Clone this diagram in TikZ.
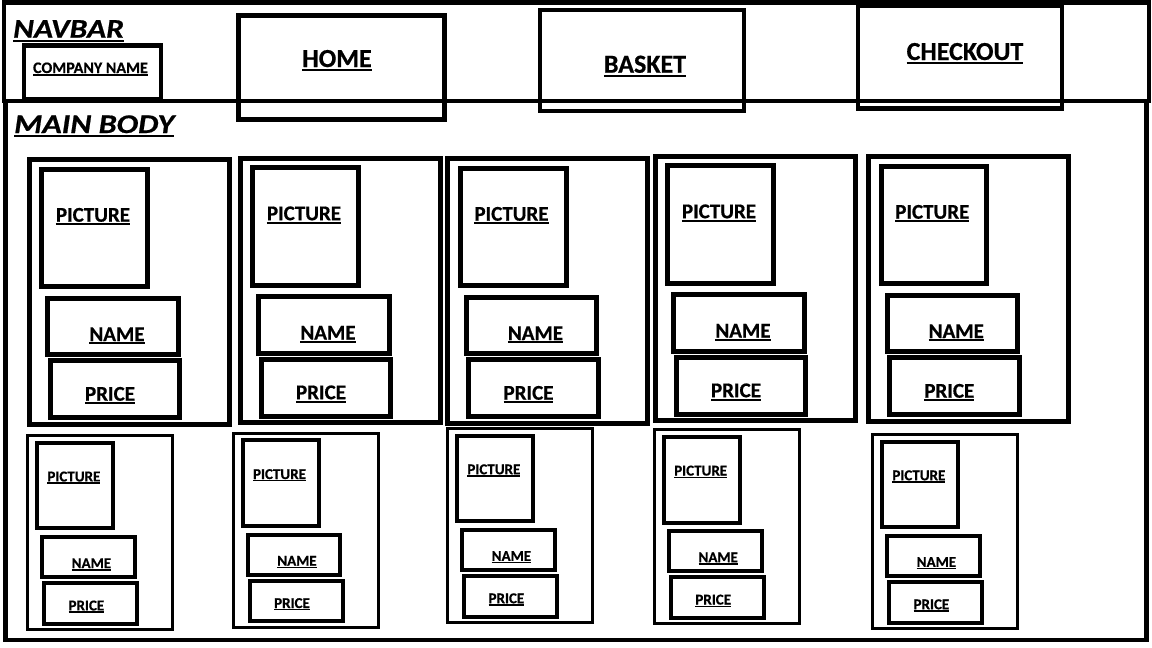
\documentclass[tikz,border=0pt]{standalone}
\usepackage{fontspec}
\setmainfont{Carlito}[BoldFeatures={FakeBold=0.6},BoldItalicFeatures={FakeBold=0.6}]
\newcommand\ulin[1]{\setbox0=\hbox{#1}\rlap{\rule[-0.16em]{\wd0}{0.09em}}\box0}
\newcommand\bx[6]{\node[#2, minimum width={(#5)-(#3)}, minimum height={(#6)-(#4)}, anchor=north west] (#1) at ({#3},{#4}) {};}
\newcommand\bigcard[3]{%
 \bx{#1}{card}{#2}{#3}{#2+200}{#3+264.5}
 \bx{#1p}{inbox}{#2+12.8}{#3+9.5}{#2+118.5}{#3+127}
 \bx{#1n}{inbox}{#2+18.8}{#3+138.5}{#2+149}{#3+195}
 \bx{#1r}{inbox}{#2+21}{#3+201}{#2+150.7}{#3+258}
 \node[lblbig] (#1pt) at ({#2+64},{#3+62.2}) {\ulin{PICTURE}};
 \node[lblbig] (#1nt) at ({#2+88},{#3+181.5}) {\ulin{NAME}};
 \node[lblbig] (#1rt) at ({#2+81},{#3+241.2}) {\ulin{PRICE}};
}
\newcommand\smallcard[3]{%
 \bx{#1}{cardsm}{#2}{#3}{#2+145}{#3+194}
 \bx{#1p}{insm}{#2+9.7}{#3+7}{#2+85.4}{#3+92.7}
 \bx{#1n}{insm}{#2+14.5}{#3+101.2}{#2+107}{#3+141.4}
 \bx{#1r}{insm}{#2+16.4}{#3+147.2}{#2+109.5}{#3+188}
 \node[lblsm] (#1pt) at ({#2+46.2},{#3+45.7}) {\ulin{PICTURE}};
 \node[lblsm] (#1nt) at ({#2+63.7},{#3+132.4}) {\ulin{NAME}};
 \node[lblsm] (#1rt) at ({#2+58.7},{#3+174.7}) {\ulin{PRICE}};
}
\begin{document}
\begin{tikzpicture}[x=1pt,y=-1pt,
 frame/.style={draw, line width=4.5pt, inner sep=0pt, outer sep=0pt},
 navbox/.style={draw, line width=4.5pt, inner sep=0pt, outer sep=0pt},
 card/.style={draw, line width=5pt, inner sep=0pt, outer sep=0pt},
 inbox/.style={draw, line width=5pt, inner sep=0pt, outer sep=0pt},
 cardsm/.style={draw, line width=3.3pt, inner sep=0pt, outer sep=0pt},
 insm/.style={draw, line width=4pt, inner sep=0pt, outer sep=0pt},
 lblbig/.style={anchor=base, inner sep=0pt, font=\fontsize{21}{21}\selectfont\bfseries},
 lblsm/.style={anchor=base, inner sep=0pt, font=\fontsize{15}{15}\selectfont\bfseries},
 navlbl/.style={anchor=base, inner sep=0pt, font=\fontsize{26}{26}\selectfont\bfseries},
 complbl/.style={anchor=base, inner sep=0pt, font=\fontsize{16}{16}\selectfont\bfseries},
 title/.style={anchor=base west, inner sep=0pt, font=\fontsize{27}{27}\selectfont\bfseries\itshape}]
\useasboundingbox (0,0) rectangle (1152,648);
\fill[white] (0,0) rectangle (1152,648);
% frame
\bx{navbar}{frame}{4}{2.5}{1149}{101}
\bx{mainbody}{frame}{5.5}{101}{1146.5}{640}
% navbar contents
\node[title] (navbar-t) at (13,37.7) {\ulin{\scalebox{1.17}[1]{NAVBAR}}};
\bx{company}{navbox}{24}{45.5}{161}{99}
\node[complbl] (company-t) at (90.5,73) {\ulin{COMPANY NAME}};
\bx{home}{navbox}{238.7}{15.5}{444.5}{119.5}
\node[navlbl] (home-t) at (337,67) {\ulin{HOME}};
\bx{basket}{navbox}{540}{10}{744.2}{111}
\node[navlbl] (basket-t) at (645,72.7) {\ulin{BASKET}};
\bx{checkout}{navbox}{858}{6}{1062}{108.5}
\node[navlbl] (checkout-t) at (965,60) {\ulin{CHECKOUT}};
% main body
\node[title] (main-t) at (14,133) {\ulin{\scalebox{1.19}[1]{MAIN BODY}}};
\bigcard{a1}{29}{159.5}
\bigcard{a2}{240}{158}
\bigcard{a3}{447.5}{158.5}
\bigcard{a4}{655}{156}
\bigcard{a5}{868.3}{156.5}
\smallcard{b1}{27.7}{435.7}
\smallcard{b2}{233.3}{433.3}
\smallcard{b3}{447.7}{428.5}
\smallcard{b4}{654.5}{429.8}
\smallcard{b5}{872.7}{434.5}
\end{tikzpicture}
\end{document}
